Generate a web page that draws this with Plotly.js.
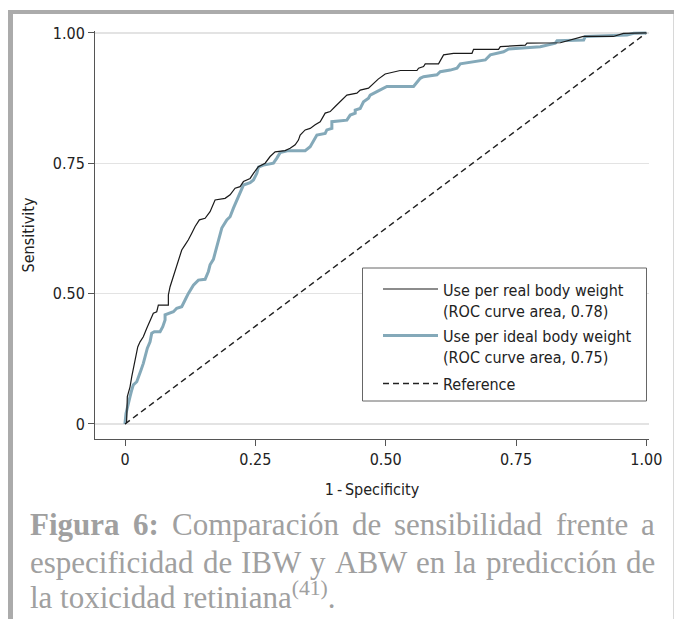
<!DOCTYPE html>
<html>
<head>
<meta charset="utf-8">
<script src="https://cdn.plot.ly/plotly-3.0.1.min.js"></script>
<style>html,body{margin:0;padding:0;background:#fff;}#chart{width:675px;height:619px;}</style>
</head>
<body>
<div id="chart"></div>
<script>
// ---- Data (y in plotted axis units) ----
const fprReal = [0,0.003,0.0044,0.0096,0.0129,0.0192,0.0244,0.0288,0.0351,0.0417,0.048,0.0543,0.0608,0.0639,0.0831,0.0831,0.0864,0.0927,0.0979,0.1023,0.1088,0.1152,0.1215,0.128,0.1344,0.1426,0.1536,0.1631,0.1727,0.1919,0.2015,0.2111,0.2207,0.2271,0.2399,0.2463,0.2559,0.2687,0.2783,0.2879,0.3071,0.3167,0.3263,0.3326,0.3359,0.3455,0.3551,0.3647,0.3743,0.3839,0.3935,0.4031,0.4127,0.4255,0.4447,0.4511,0.467,0.4766,0.4856,0.499,0.5278,0.5599,0.563,0.5726,0.5758,0.6013,0.611,0.6301,0.6655,0.6685,0.7165,0.7198,0.7678,0.771,0.8349,0.8791,0.9367,0.9559,1];
const tprReal = [0,0.003,0.070,0.095,0.121,0.164,0.197,0.210,0.223,0.245,0.266,0.283,0.287,0.304,0.304,0.330,0.351,0.377,0.402,0.419,0.445,0.458,0.471,0.488,0.505,0.522,0.526,0.543,0.573,0.577,0.586,0.603,0.607,0.620,0.628,0.641,0.658,0.667,0.684,0.696,0.699,0.705,0.714,0.726,0.739,0.752,0.756,0.765,0.773,0.795,0.799,0.812,0.824,0.841,0.846,0.854,0.859,0.871,0.882,0.895,0.904,0.904,0.910,0.914,0.921,0.921,0.944,0.948,0.948,0.958,0.958,0.965,0.969,0.974,0.975,0.991,0.991,0.999,1];
const fprIdeal = [0,0,0.0019,0.0052,0.0096,0.0129,0.0159,0.0225,0.0255,0.0307,0.0351,0.0397,0.0428,0.048,0.0512,0.0562,0.0672,0.0724,0.0768,0.0768,0.0864,0.0927,0.0992,0.1088,0.1152,0.1215,0.1311,0.1407,0.1536,0.1599,0.1631,0.1695,0.1727,0.1791,0.1856,0.1952,0.2015,0.2079,0.2144,0.2207,0.2271,0.2399,0.2463,0.2528,0.2559,0.2655,0.2846,0.2912,0.2975,0.3134,0.3455,0.3551,0.3647,0.368,0.3839,0.3871,0.3967,0.3967,0.4255,0.4319,0.4415,0.4415,0.4511,0.4574,0.467,0.4702,0.4831,0.5023,0.5534,0.5662,0.5726,0.5983,0.6046,0.6238,0.6367,0.643,0.691,0.7006,0.7261,0.7358,0.7965,0.8094,0.8253,0.8286,0.8797,0.8829,0.9629,0.9757,1];
const tprIdeal = [0,0.003,0.027,0.049,0.070,0.087,0.100,0.108,0.121,0.138,0.155,0.176,0.194,0.210,0.232,0.236,0.236,0.249,0.266,0.279,0.283,0.287,0.296,0.300,0.317,0.334,0.355,0.368,0.370,0.390,0.407,0.421,0.437,0.471,0.501,0.522,0.530,0.552,0.573,0.594,0.611,0.617,0.624,0.641,0.657,0.662,0.667,0.680,0.694,0.699,0.699,0.709,0.731,0.739,0.743,0.752,0.756,0.773,0.777,0.790,0.795,0.803,0.807,0.824,0.833,0.841,0.850,0.863,0.863,0.884,0.888,0.893,0.901,0.905,0.910,0.921,0.931,0.944,0.952,0.959,0.965,0.969,0.974,0.980,0.982,0.991,0.995,0.999,1];
const refX = [0,1];
const refY = [0,1];
const xTickVals = [0,0.25,0.5,0.75,1];
const xTickText = ['0','0.25','0.50','0.75','1.00'];
const yTickVals = [0,1/3,2/3,1];
const yTickText = ['0','0.50','0.75','1.00'];
const xTitle = '1\u2009-\u2009Specificity';
const yTitle = 'Sensitivity';
const legendLines = [['Use per real body weight','(ROC curve area, 0.78)'],['Use per ideal body weight','(ROC curve area, 0.75)'],['Reference']];
const captionL1 = [['Figura',true],['6:',true],['Comparación',false],['de',false],['sensibilidad',false],['frente',false],['a',false]];
const captionL2 = ['especificidad','de','IBW','y','ABW','en','la','predicción','de'];
const captionL3 = 'la toxicidad retiniana<sup>(41)</sup>.';

// ---- Layout helpers ----
const W = 675, H = 619;
const M = {l:95, r:26, t:31, b:180};
const PW = W - M.l - M.r, PH = H - M.t - M.b;
const px = x => (x - M.l) / PW;
const py = y => (H - M.b - y) / PH;

const SANS = '"DejaVu Sans Condensed", "DejaVu Sans", sans-serif';
const SERIF = '"Liberation Serif", "Times New Roman", serif';
const FS = 16;
const CAP = 31, CAPCOL = '#a0a0a0';
const BLUE = '#84a9b9';

const traces = [
  {x: refX, y: refY, mode:'lines', line:{color:'#222', width:1.5, dash:'6px,4px'}, showlegend:false, hoverinfo:'skip'},
  {x: fprIdeal, y: tprIdeal, mode:'lines', line:{color:BLUE, width:3}, showlegend:false},
  {x: fprReal, y: tprReal, mode:'lines', line:{color:'#1a1a1a', width:1.2}, showlegend:false}
];

const shapes = [
  // frame
  {type:'rect', xref:'paper', yref:'paper', x0:px(8), x1:px(13), y0:py(619), y1:py(10), fillcolor:'#ababab', line:{width:0}, layer:'above'},
  {type:'rect', xref:'paper', yref:'paper', x0:px(8), x1:px(674), y0:py(14), y1:py(10), fillcolor:'#ababab', line:{width:0}, layer:'above'},
  {type:'line', xref:'paper', yref:'paper', x0:px(673.5), x1:px(673.5), y0:py(14), y1:py(619), line:{color:'#d8d8d8', width:1}},
  // legend box
  {type:'rect', xref:'paper', yref:'paper', x0:px(362.5), x1:px(646.5), y0:py(401), y1:py(268), fillcolor:'#fff', line:{color:'#666', width:1}, layer:'above'},
  {type:'line', xref:'paper', yref:'paper', x0:px(383), x1:px(438), y0:py(289), y1:py(289), line:{color:'#1a1a1a', width:1.2}, layer:'above'},
  {type:'line', xref:'paper', yref:'paper', x0:px(383), x1:px(438), y0:py(335.5), y1:py(335.5), line:{color:BLUE, width:3}, layer:'above'},
  {type:'line', xref:'paper', yref:'paper', x0:px(383), x1:px(438), y0:py(383.5), y1:py(383.5), line:{color:'#222', width:1.5, dash:'6px,4px'}, layer:'above'}
];

const annotations = [];
const legY = [[290, 311], [336, 357], [384]];
legendLines.forEach((lines, i) => {
  lines.forEach((t, j) => {
    annotations.push({xref:'paper', yref:'paper', x:px(443), y:py(legY[i][j]), xanchor:'left', yanchor:'middle',
      text:t, showarrow:false, borderpad:0, borderwidth:0, font:{family:SANS, size:FS, color:'#222'}});
  });
});

// caption, justified lines measured with a canvas
const ctx = document.createElement('canvas').getContext('2d');
function tw(t, bold){ ctx.font = (bold?'bold ':'') + CAP + 'px ' + SERIF; return ctx.measureText(t).width; }
const DESC = 0.216 * CAP;
function justify(words, baseline, x0, x1){
  const ws = words.map(w => tw(w[0], w[1]));
  const sum = ws.reduce((a,b)=>a+b,0);
  const gap = (x1 - x0 - sum) / (words.length - 1);
  let x = x0;
  words.forEach((w, k) => {
    annotations.push({xref:'paper', yref:'paper', x:px(x), y:py(baseline + DESC), xanchor:'left', yanchor:'bottom',
      text: w[1] ? '<b>'+w[0]+'</b>' : w[0], showarrow:false, borderpad:0, borderwidth:0,
      font:{family:SERIF, size:CAP, color:CAPCOL}});
    x += ws[k] + gap;
  });
}
justify(captionL1, 535, 30, 655);
justify(captionL2.map(w => [w,false]), 573, 30, 655);
annotations.push({xref:'paper', yref:'paper', x:px(30), y:py(608 + DESC), xanchor:'left', yanchor:'bottom',
  text: captionL3, showarrow:false, borderpad:0, borderwidth:0, font:{family:SERIF, size:CAP, color:CAPCOL}});

const layout = {
  width: W, height: H,
  margin: M,
  paper_bgcolor:'#fff', plot_bgcolor:'#fff',
  showlegend:false,
  font:{family:SANS, size:FS, color:'#222'},
  xaxis:{range:[-0.0576, 1.005], tickvals:xTickVals, ticktext:xTickText, ticks:'outside', ticklen:6, tickcolor:'#555',
    showline:true, linecolor:'#555', linewidth:1, showgrid:false, zeroline:false,
    tickfont:{family:SANS, size:FS, color:'#222'},
    title:{text:xTitle, standoff:15, font:{family:SANS, size:FS, color:'#222'}}},
  yaxis:{range:[-0.0384, 1.005], tickvals:yTickVals, ticktext:yTickText, ticks:'outside', ticklen:6, tickcolor:'#555',
    showline:true, linecolor:'#555', linewidth:1, showgrid:true, gridcolor:'#e3e3e3', gridwidth:1.5, zeroline:false,
    tickfont:{family:SANS, size:FS, color:'#222'},
    title:{text:yTitle, standoff:14, font:{family:SANS, size:FS, color:'#222'}}},
  shapes: shapes,
  annotations: annotations
};

Plotly.newPlot('chart', traces, layout, {staticPlot:true, displayModeBar:false});
</script>
</body>
</html>
